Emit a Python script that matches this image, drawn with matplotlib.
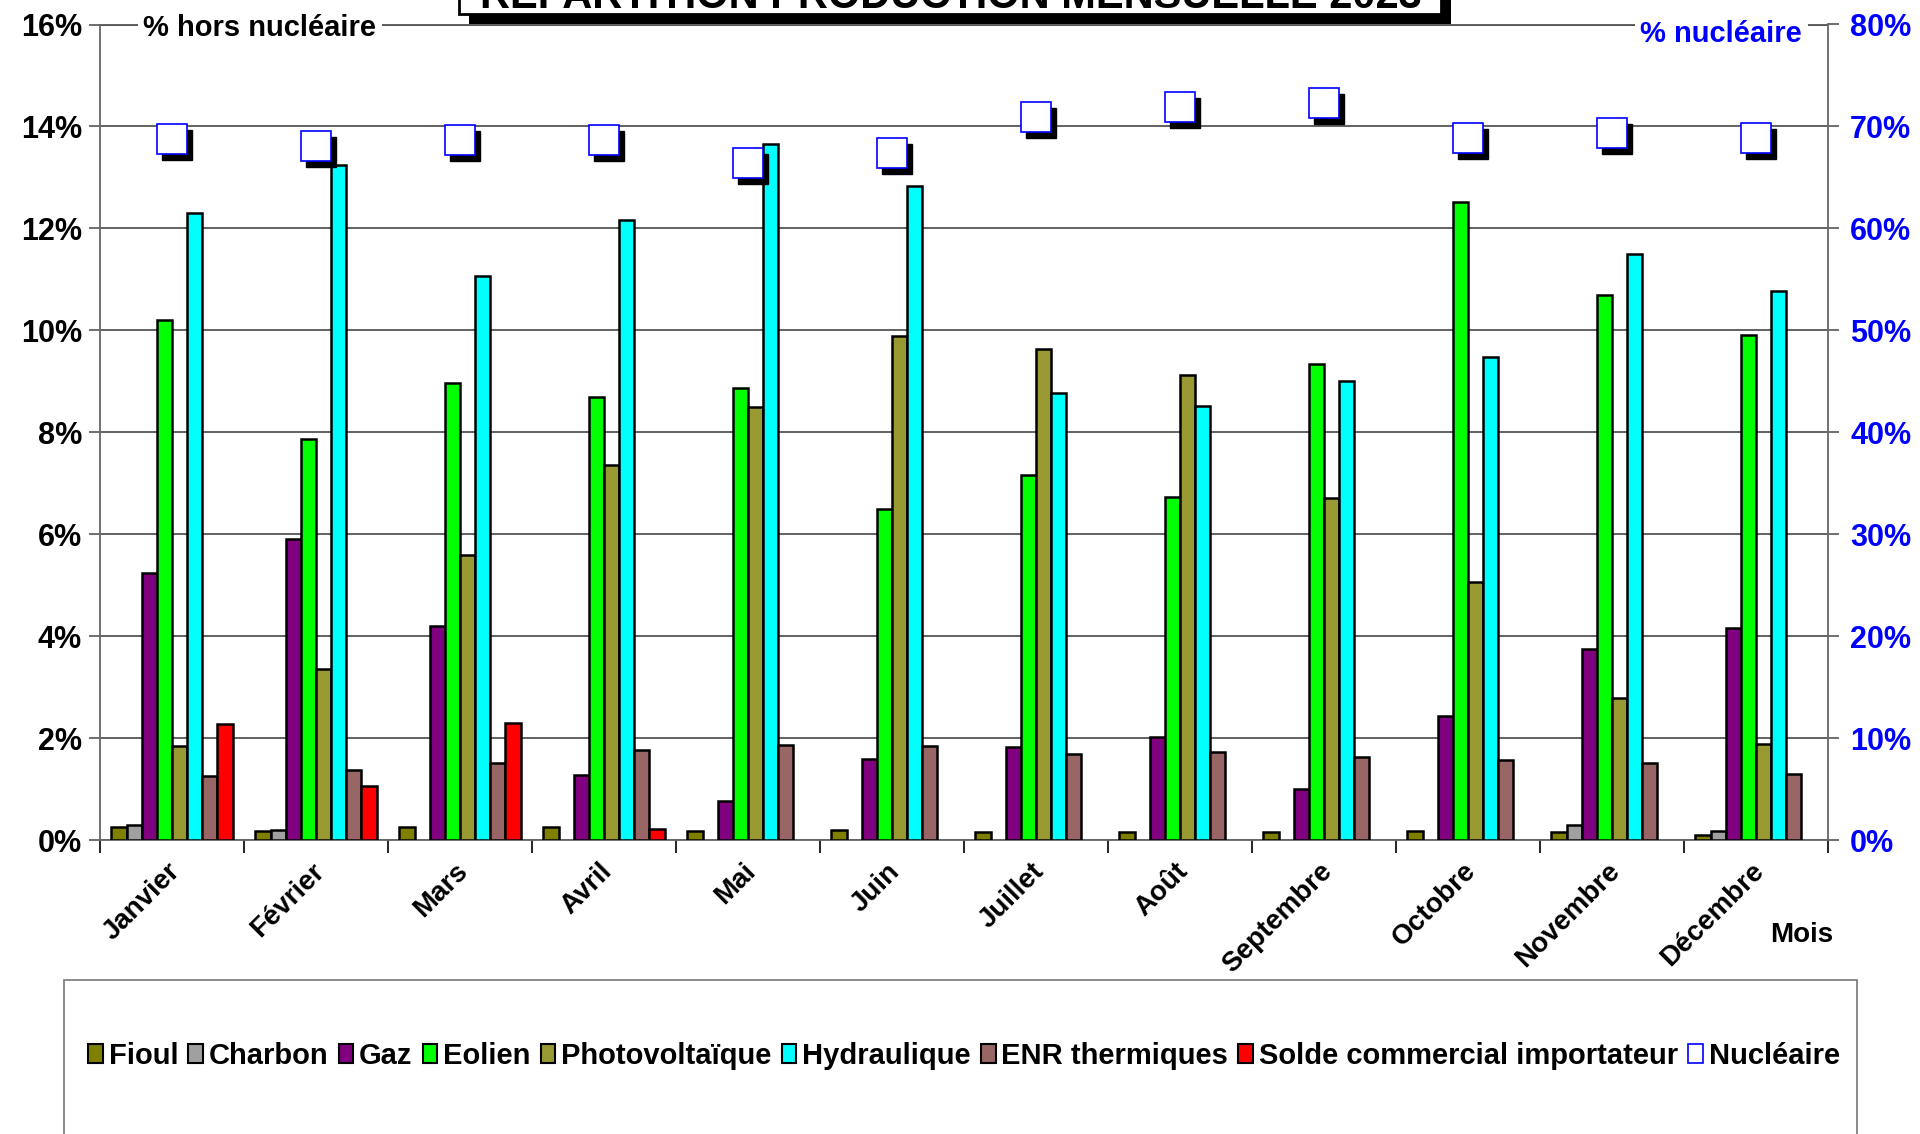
import matplotlib
matplotlib.use("Agg")
import matplotlib.pyplot as plt
import matplotlib.transforms as mtransforms
from matplotlib.patches import Patch, Rectangle
import numpy as np

plt.rcParams['font.family'] = ['Liberation Sans', 'DejaVu Sans']
plt.rcParams['font.weight'] = 'bold'

# Données (% de la production mensuelle)
mois = ['Janvier', 'Février', 'Mars', 'Avril', 'Mai', 'Juin', 'Juillet',
        'Août', 'Septembre', 'Octobre', 'Novembre', 'Décembre']
fioul = [0.25, 0.18, 0.26, 0.26, 0.18, 0.20, 0.15, 0.16, 0.16, 0.17, 0.16, 0.10]
charbon = [0.29, 0.20, 0, 0, 0, 0, 0, 0, 0, 0, 0.29, 0.18]
gaz = [5.24, 5.91, 4.19, 1.27, 0.77, 1.58, 1.83, 2.03, 1.01, 2.43, 3.75, 4.15]
eolien = [10.21, 7.86, 8.96, 8.70, 8.87, 6.49, 7.16, 6.73, 9.33, 12.52, 10.70, 9.90]
photovoltaique = [1.84, 3.35, 5.59, 7.36, 8.49, 9.88, 9.64, 9.13, 6.71, 5.07, 2.79, 1.89]
hydraulique = [12.31, 13.24, 11.07, 12.16, 13.65, 12.84, 8.77, 8.51, 9.01, 9.47, 11.50, 10.77]
enr_thermiques = [1.25, 1.37, 1.52, 1.77, 1.86, 1.84, 1.69, 1.73, 1.63, 1.57, 1.52, 1.29]
solde_import = [2.28, 1.05, 2.30, 0.21, 0, 0, 0, 0, 0, 0, 0, 0]
nucleaire = [68.8, 68.1, 68.7, 68.7, 66.4, 67.4, 70.9, 71.9, 72.3, 68.9, 69.4, 68.9]

series = [
    ('Fioul', fioul, '#808000'),
    ('Charbon', charbon, '#A0A0A0'),
    ('Gaz', gaz, '#800080'),
    ('Eolien', eolien, '#00FF00'),
    ('Photovoltaïque', photovoltaique, '#999933'),
    ('Hydraulique', hydraulique, '#00FFFF'),
    ('ENR thermiques', enr_thermiques, '#996666'),
    ('Solde commercial importateur', solde_import, '#FF0000'),
]

fig = plt.figure(figsize=(19.2, 11.34), dpi=100)
ax = fig.add_axes([100 / 1920, 1 - 840 / 1134, 1728 / 1920, 815.5 / 1134])

x = np.arange(len(mois))
n = len(series)
w = 0.842 / n
for k, (nom, vals, col) in enumerate(series):
    vals = np.array(vals, dtype=float)
    keep = vals > 0
    pos = x - 0.421 + w * (k + 0.5)
    ax.bar(pos[keep], vals[keep], width=w, color=col, edgecolor='black',
           linewidth=1.8, zorder=3)

ax.set_xlim(-0.5, len(mois) - 0.5)
ax.set_ylim(0, 16)
ax.set_yticks(np.arange(0, 17, 2))
ax.set_yticklabels([f'{v}%' for v in range(0, 17, 2)])
ax.yaxis.grid(True, color='#555555', linewidth=1.3, zorder=0)
ax.set_axisbelow(True)
ax.tick_params(axis='y', labelsize=22, length=8, width=1.2, color='#555555', pad=5)

ax.set_xticks(x)
ax.set_xticklabels(mois, rotation=45, ha='right', rotation_mode='anchor', fontsize=20)
ax.tick_params(axis='x', length=0, pad=13)
ax.set_xticks(np.arange(-0.5, len(mois)), minor=True)
ax.tick_params(axis='x', which='minor', length=9, width=1.2, color='black')
for lab in ax.get_xticklabels():
    lab.set_transform(lab.get_transform() + mtransforms.ScaledTranslation(-0.05, 0.0, fig.dpi_scale_trans))

for s in ['top', 'right']:
    ax.spines[s].set_visible(False)
for s in ['left', 'bottom']:
    ax.spines[s].set_color('#666666')
    ax.spines[s].set_linewidth(1.3)

# Axe nucléaire
ax2 = ax.twinx()
ax2.set_ylim(0, 80)
ax2.set_yticks(np.arange(0, 81, 10))
ax2.set_yticklabels([f'{v}%' for v in range(0, 81, 10)], color='#0000FF')
ax2.tick_params(axis='y', labelsize=22, length=8, width=1.2, color='#555555', pad=8)
for s in ['top', 'left', 'bottom']:
    ax2.spines[s].set_visible(False)
ax2.spines['right'].set_color('#666666')
ax2.spines['right'].set_linewidth(1.3)

shadow = mtransforms.offset_copy(ax2.transData, fig=fig, x=5, y=-6, units='dots')
ax2.plot(x, nucleaire, linestyle='none', marker='s', markersize=21,
         markerfacecolor='black', markeredgecolor='black', transform=shadow, zorder=4)
ax2.plot(x, nucleaire, linestyle='none', marker='s', markersize=21,
         markerfacecolor='white', markeredgecolor='#0000FF', markeredgewidth=1.2, zorder=5)

ax.plot([0, 1], [1, 1], transform=ax.transAxes, color='#555555', lw=1.3, clip_on=False, zorder=1)
ax.text(0.025, 1 - 3 / 815.5, '% hors nucléaire', transform=ax.transAxes, fontsize=21,
        ha='left', va='center', bbox=dict(facecolor='white', edgecolor='none', pad=4), zorder=6)
ax2.text(0.985, 1 - 9 / 815.5, '% nucléaire', transform=ax2.transAxes, fontsize=21, color='#0000FF',
         ha='right', va='center', bbox=dict(facecolor='white', edgecolor='none', pad=4), zorder=6)

fig.text(1833 / 1920, 1 - 935 / 1134, 'Mois', fontsize=20, ha='right', va='center')

# Titre (coupé en haut, comme l'original)
fig.patches.append(Rectangle((469 / 1920, 1 - 24 / 1134), 982 / 1920, 40 / 1134,
                             transform=fig.transFigure, facecolor='black', edgecolor='none', zorder=5))
fig.patches.append(Rectangle((459 / 1920, 1 - 14 / 1134), 982 / 1920, 40 / 1134,
                             transform=fig.transFigure, facecolor='white', edgecolor='black',
                             linewidth=2, zorder=6))
fig.text(951 / 1920, 1 - 8 / 1134, 'REPARTITION PRODUCTION MENSUELLE 2023', fontsize=30,
         ha='center', va='baseline', zorder=7)

# Légende
fig.patches.append(Rectangle((64 / 1920, -0.05), 1793 / 1920, 0.05 + (1134 - 980) / 1134,
                             transform=fig.transFigure, facecolor='white', edgecolor='#777777',
                             linewidth=1.2, zorder=0))
handles = [Patch(facecolor=c, edgecolor='black', linewidth=1.5) for _, _, c in series]
handles.append(Patch(facecolor='white', edgecolor='#0000FF', linewidth=1.2))
labels = [s[0] for s in series] + ['Nucléaire']
fig.legend(handles, labels, loc='center', bbox_to_anchor=(964 / 1920, 1 - 1056 / 1134),
           ncol=9, frameon=False, fontsize=21, handlelength=0.5, handleheight=0.65,
           handletextpad=0.2, columnspacing=0.35)

fig.savefig('out.png', dpi=100)
